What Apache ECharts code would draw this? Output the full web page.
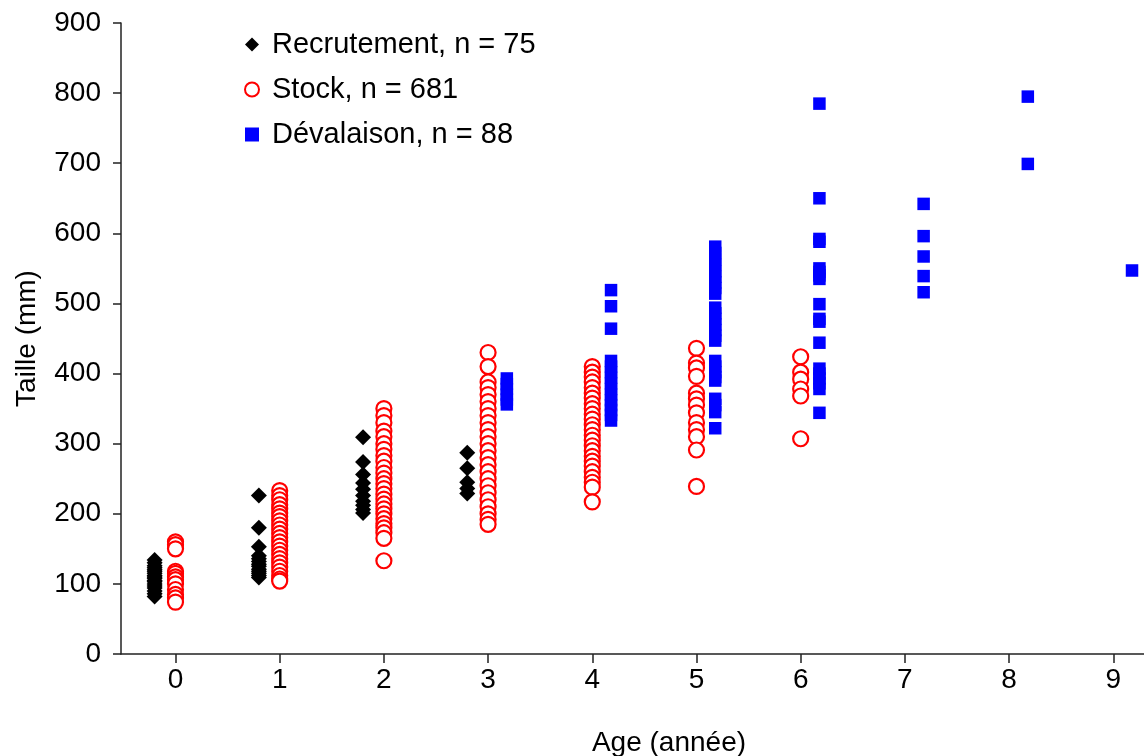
<!DOCTYPE html>
<html><head><meta charset="utf-8">
<script src="https://cdn.jsdelivr.net/npm/echarts@6/dist/echarts.min.js"></script>
<style>html,body{margin:0;padding:0;background:#fff}#c{width:1144px;height:756px}</style>
</head><body><div id="c"></div>
<script>
const ages = [0, 1, 2, 3, 4, 5, 6, 7, 8, 9];
const seriesNames = ['Recrutement, n = 75', 'Stock, n = 681', 'Dévalaison, n = 88'];
const yTicks = [0, 100, 200, 300, 400, 500, 600, 700, 800, 900];

// Taille (mm) per age class, index = age
const recrutement = [
  [82, 86, 90, 94, 97, 100, 103, 105, 108, 110, 112, 115, 118, 120, 123, 126, 130, 134],
  [226, 180, 153, 140, 136, 132, 128, 125, 121, 118, 115, 112, 109],
  [309, 274, 256, 244, 235, 226, 218, 212, 206, 201],
  [287, 265, 245, 236, 229],
  [], [], [], [], [], []
];
const stock = [
  [160, 156, 150, 118, 115, 110, 106, 100, 92, 85, 80, 74],
  [233, 226, 220, 213, 207, 201, 196, 190, 184, 178, 172, 166, 160, 154, 148, 142, 136, 130, 124, 118, 112, 107, 104],
  [350, 340, 330, 318, 310, 300, 292, 283, 275, 266, 258, 250, 243, 236, 228, 221, 214, 207, 200, 193, 186, 180, 173, 165, 133],
  [430, 410, 388, 380, 370, 360, 350, 340, 330, 320, 310, 300, 290, 280, 270, 260, 250, 240, 230, 220, 210, 200, 192, 185],
  [410, 402, 395, 388, 380, 372, 365, 357, 350, 342, 335, 327, 320, 312, 305, 297, 290, 282, 275, 268, 260, 252, 245, 238, 217],
  [436, 415, 408, 396, 372, 364, 355, 344, 330, 320, 310, 291, 239],
  [424, 402, 392, 378, 368, 307],
  [], [], []
];
const devalaison = [
  [], [], [],
  [393, 385, 378, 370, 363, 356],
  [519, 496, 464, 418, 410, 402, 394, 386, 378, 370, 362, 355, 348, 341, 333],
  [581, 572, 563, 555, 546, 538, 530, 522, 514, 494, 486, 478, 470, 462, 454, 447, 418, 410, 402, 395, 390, 364, 355, 345, 322],
  [785, 650, 592, 588, 550, 545, 540, 535, 499, 478, 474, 444, 407, 400, 393, 386, 378, 344],
  [642, 596, 567, 539, 516],
  [795, 699],
  [547]
];

// horizontal offset of each group relative to its age tick
const recOffset = -0.2, stockOffset = 0, devOffset = 0.18;

function toPoints(groups, offset) {
  const pts = [];
  groups.forEach((vals, i) => vals.forEach(v => pts.push([ages[i] + offset, v])));
  return pts;
}

const FONT = 'Liberation Sans, Arial, sans-serif';
const AX = '#222';
const chart = echarts.init(document.getElementById('c'), null, {renderer: 'canvas'});
chart.setOption({
  animation: false,
  backgroundColor: '#fff',
  grid: {left: 121, right: 0, top: 23, bottom: 102, containLabel: false, outerBoundsMode: 'none'},
  legend: {
    orient: 'vertical', left: 239, top: 25,
    itemWidth: 14, itemHeight: 14, itemGap: 16,
    textStyle: {fontSize: 29, fontFamily: FONT, color: '#000', padding: [0, 0, 0, 8]},
    data: seriesNames
  },
  xAxis: {
    type: 'value', min: -0.523, max: 9.295,
    name: 'Age (année)', nameLocation: 'middle', nameGap: 75,
    nameTextStyle: {fontSize: 28, fontFamily: FONT, color: '#000', padding: [0, 0, 0, 73]},
    axisLine: {show: true, onZero: false, lineStyle: {color: AX, width: 1.5}},
    axisTick: {show: true, inside: false, length: 9, customValues: ages, lineStyle: {color: AX, width: 1.5}},
    axisLabel: {fontSize: 28, fontFamily: FONT, color: '#000', margin: 12, customValues: ages},
    splitLine: {show: false}
  },
  yAxis: {
    type: 'value', min: yTicks[0], max: yTicks[yTicks.length - 1], interval: 100,
    name: 'Taille (mm)', nameLocation: 'middle', nameGap: 80,
    nameTextStyle: {fontSize: 28, fontFamily: FONT, color: '#000'},
    axisLine: {show: true, onZero: false, lineStyle: {color: AX, width: 1.5}},
    axisTick: {show: true, inside: false, length: 8, lineStyle: {color: AX, width: 1.5}},
    axisLabel: {fontSize: 28, fontFamily: FONT, color: '#000', margin: 20},
    splitLine: {show: false}
  },
  series: [
    {
      name: seriesNames[0], type: 'scatter', symbol: 'diamond', symbolSize: 16,
      itemStyle: {color: '#000', opacity: 1},
      data: toPoints(recrutement, recOffset)
    },
    {
      name: seriesNames[1], type: 'scatter', symbol: 'circle', symbolSize: 15,
      itemStyle: {color: '#fff', borderColor: '#ff0000', borderWidth: 2.2, opacity: 1},
      data: toPoints(stock, stockOffset)
    },
    {
      name: seriesNames[2], type: 'scatter', symbol: 'rect', symbolSize: 12.5,
      itemStyle: {color: '#0000ff', opacity: 1},
      data: toPoints(devalaison, devOffset)
    }
  ]
});
</script></body></html>
